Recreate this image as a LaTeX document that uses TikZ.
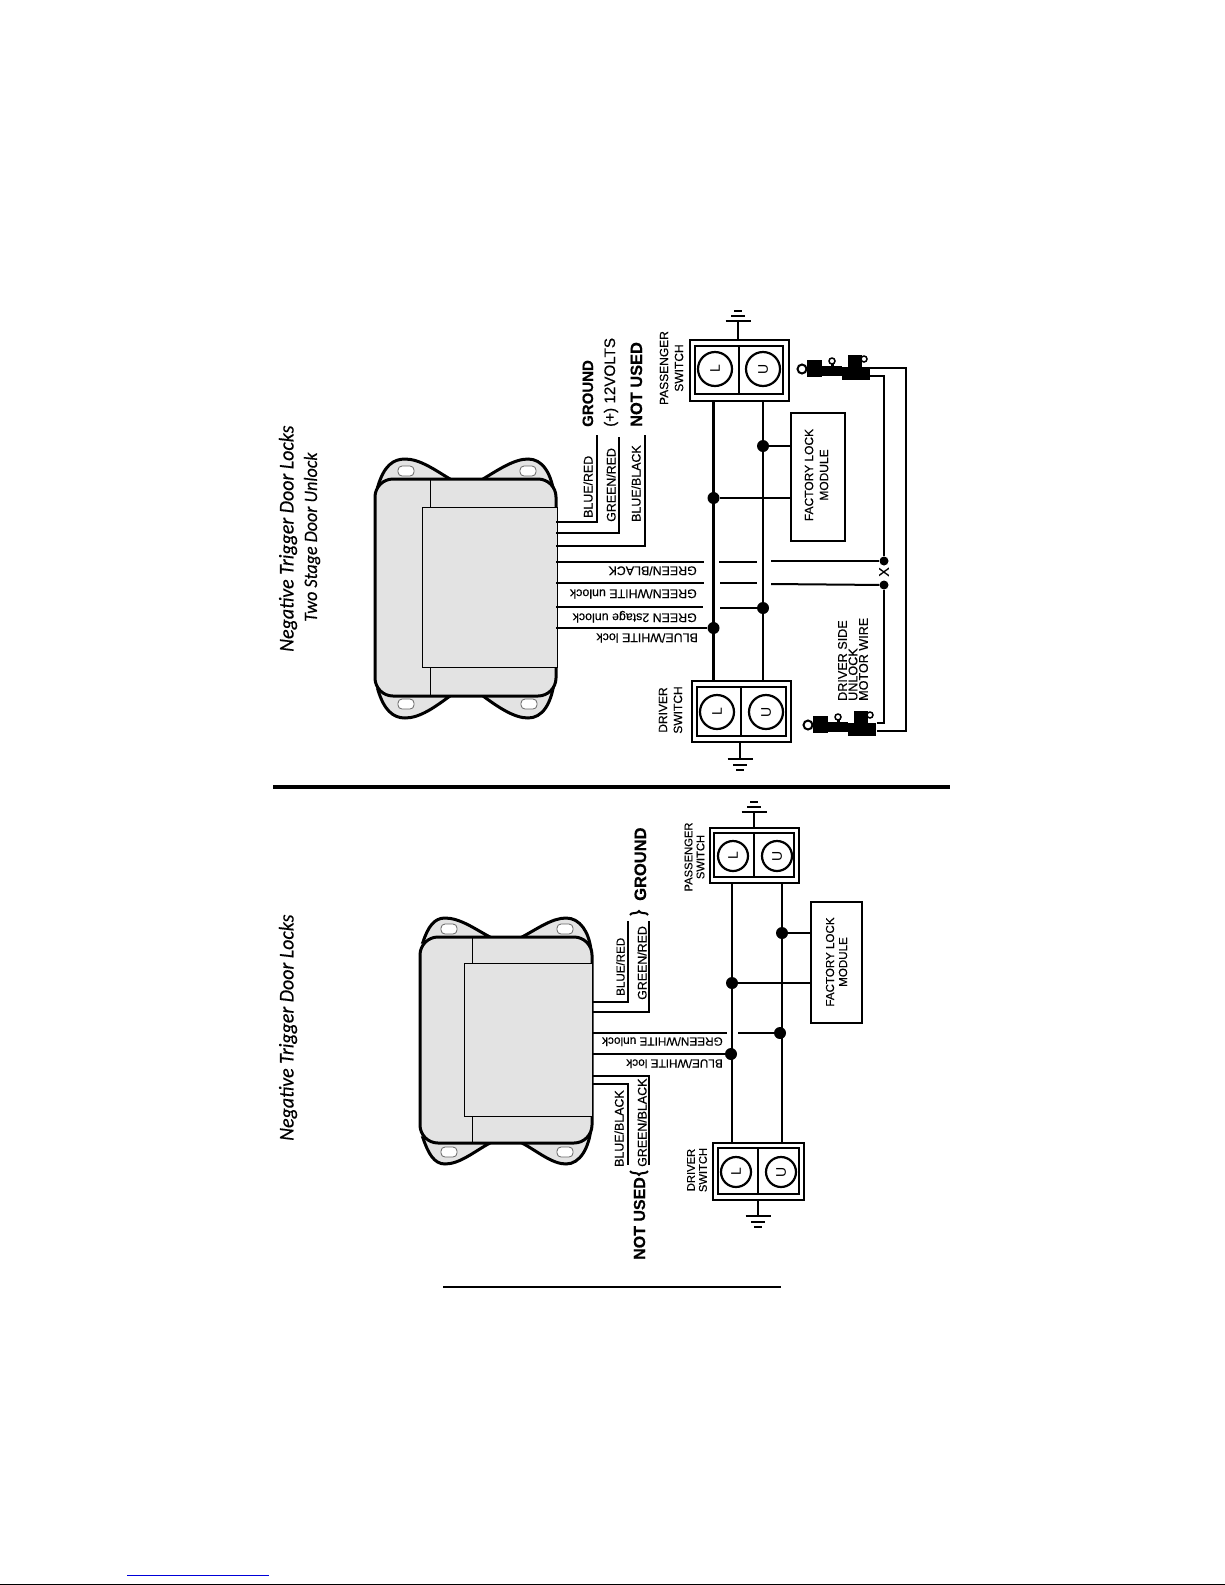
\documentclass[tikz,border=0pt]{standalone}
\usepackage{fontspec}
\setsansfont[FakeBold=0.4]{Liberation Sans}
\newfontfamily\plainfont{Liberation Sans}
\newfontfamily\titlefont[FakeStretch=0.95,FakeBold=0.3]{Carlito}
\usetikzlibrary{decorations.pathreplacing}
\definecolor{unitgray}{gray}{0.89}
\tikzset{
  unitbody/.style={draw,line width=3pt,fill=unitgray,rounded corners=18pt,outer sep=0pt,inner sep=0pt},
  unitpanel/.style={draw,line width=1pt,fill=unitgray,outer sep=0pt,inner sep=0pt},
  earline/.style={draw,line width=3pt,fill=unitgray},
  earhole/.style={draw=black!60,line width=0.8pt,fill=white,rounded corners=4pt,minimum width=16pt,minimum height=10pt,inner sep=0pt},
  wire/.style={line width=2.9pt},
  thinwire/.style={line width=2pt},
  swouter/.style={draw,line width=2pt,fill=white,outer sep=0pt,inner sep=0pt},
  swinner/.style={draw,line width=2.6pt,outer sep=0pt,inner sep=0pt},
  swcirc/.style={draw,circle,line width=2.2pt,inner sep=0pt,rotate=90,font=\plainfont\fontsize{14}{14}\selectfont},
  dot/.style={circle,fill=black,inner sep=0pt,minimum size=12pt},
  smalldot/.style={circle,fill=black,inner sep=0pt,minimum size=9pt},
  modbox/.style={draw,line width=2pt,fill=white,outer sep=0pt,inner sep=0pt},
  wlabel/.style={inner sep=0pt,rotate=90,anchor=west,text height=9pt,text depth=0pt,font=\sffamily\fontsize{12.4}{12.4}\selectfont},
  revlabel/.style={inner sep=0pt,rotate=180,anchor=west,text height=9pt,text depth=0pt,font=\sffamily\fontsize{12.4}{12.4}\selectfont},
  biglabel/.style={inner sep=0pt,rotate=90,anchor=west,text height=10pt,text depth=0pt,font=\sffamily\bfseries\fontsize{15}{15}\selectfont},
  swlabel/.style={inner sep=0pt,rotate=90,align=center,font=\sffamily\fontsize{12}{15}\selectfont},
  titlelabel/.style={inner sep=0pt,rotate=90,anchor=west,font=\titlefont\itshape\fontsize{21}{21}\selectfont},
  actuator/.pic={
    \draw[line width=2pt] (0,0) circle (4.5);
    \fill (5,-9) rectangle (20,8);
    \fill (20,-3) rectangle (40,7);
    \fill (40,-2) rectangle (68,11);
    \fill (46,-14) rectangle (60,-2);
    \draw[line width=1.5pt] (30,-8) circle (3);
    \fill (28.5,-6) rectangle (31.5,-3);
    \draw[line width=1.5pt] (62,-10) circle (3);
  },
  ground/.pic={
    \draw[line width=2pt] (-12.5,0) -- (12.5,0);
    \draw[line width=2pt] (-7,5.5) -- (7,5.5);
    \draw[line width=2pt] (-4,10.5) -- (4,10.5);
  }
}
\begin{document}
\begin{tikzpicture}[x=1pt,y=-1pt]
\useasboundingbox (0,0) rectangle (1225,1585);
% upper picture: the unit
\path[earline] (378,486) .. controls (384,466) and (393,459) .. (405,459) .. controls (420,459) and (435,470) .. (450,479) -- cycle;
\path[earline] (483,479) .. controls (498,470) and (514,459) .. (528,459) .. controls (542,459) and (552,472) .. (555,500) -- cycle;
\path[earline] (378,690) .. controls (384,710) and (393,718) .. (405,718) .. controls (420,718) and (435,707) .. (450,696) -- cycle;
\path[earline] (483,696) .. controls (498,707) and (514,718) .. (528,718) .. controls (542,718) and (552,705) .. (555,676) -- cycle;
\node[earhole] (holeA) at (406,471) {};
\node[earhole] (holeB) at (528,471) {};
\node[earhole] (holeC) at (406,704) {};
\node[earhole] (holeD) at (529,704) {};
\node[unitbody,minimum width=181pt,minimum height=217pt] (unitA) at (465.5,587.5) {};
\node[unitpanel,minimum width=135pt,minimum height=160pt] (panelA) at (489.5,587) {};
\draw[line width=1pt] (430,479) -- (430,507);
\draw[line width=1pt] (430,667) -- (430,696);
% upper picture: wires leaving the unit
\coordinate (endbr) at (597,435);
\coordinate (endgr) at (619,437);
\coordinate (endbb) at (645,435);
\draw[wire] (unitA.east |- 0,522) -| (endbr);
\draw[wire] (unitA.east |- 0,533) -| (endgr);
\draw[wire] (unitA.east |- 0,546) -| (endbb);
\node[wlabel] (lblbr) at (588,518) {BLUE/RED};
\node[wlabel] (lblgr) at (611,522) {GREEN/RED};
\node[wlabel] (lblbb) at (636,522) {BLUE/BLACK};
\node[biglabel] (lblgnd) at (588,427) {GROUND};
\node[biglabel,font=\sffamily\fontsize{15.2}{15.2}\selectfont] (lbl12v) at (610,427) {(+) 12VOLTS};
\node[biglabel,font=\sffamily\bfseries\fontsize{16.4}{16.4}\selectfont] (lblnu) at (637,427) {NOT USED};
% upper picture: switches
\node[swouter,minimum width=99pt,minimum height=61pt] (swpassA) at (739.5,370.5) {};
\node[swinner,minimum width=88pt,minimum height=48pt] (inpassA) at (739,370) {};
\draw[line width=2.2pt] (739,346) -- (739,394);
\node[swcirc,minimum size=34pt] (plA) at (715,369) {L};
\node[swcirc,minimum size=34pt] (puA) at (763,369) {U};
\node[swouter,minimum width=99pt,minimum height=61pt] (swdrvA) at (741.5,711.5) {};
\node[swinner,minimum width=89pt,minimum height=49pt] (indrvA) at (741.5,711.5) {};
\draw[line width=2.2pt] (741,687) -- (741,736);
\node[swcirc,minimum size=34pt] (dlA) at (717,712) {L};
\node[swcirc,minimum size=34pt] (duA) at (766,712) {U};
\node[swlabel] (lblpassA) at (671.5,368) {PASSENGER\\SWITCH};
\node[swlabel] (lbldrvA) at (670.5,710) {DRIVER\\SWITCH};
\coordinate (gndpA) at (738,321);
\coordinate (gnddA) at (740,759);
\draw[line width=2pt] (swpassA.north -| gndpA) -- (gndpA);
\draw[line width=2pt] (swdrvA.south -| gnddA) -- (gnddA);
\pic[yscale=-1] at (gndpA) {ground};
\pic at (gnddA) {ground};
% upper picture: factory module and junctions
\node[modbox,minimum width=54pt,minimum height=128pt] (facA) at (818,477) {};
\node[swlabel] (lblfacA) at (816.5,475) {FACTORY LOCK\\MODULE};
\node[dot] (jlA) at (713.5,498) {};
\node[dot] (juA) at (763,446) {};
\node[dot] (jgsA) at (763,608) {};
\node[dot] (jbwA) at (713.5,628) {};
\draw[wire] (jlA |- swpassA.south) -- (jlA |- swdrvA.north);
\draw[wire] (juA |- swpassA.south) -- (juA |- swdrvA.north);
\draw[line width=2pt] (jlA) -- (jlA -| facA.west);
\draw[line width=2pt] (juA) -- (juA -| facA.west);
% upper picture: signal wires with their breaks
\coordinate (gbA) at (704,562);
\coordinate (gwA) at (704,583);
\coordinate (gsA) at (703,607);
\coordinate (gs2A) at (720,608);
\coordinate (b1A) at (719,562);
\coordinate (b2A) at (757,562);
\coordinate (b3A) at (720,583);
\coordinate (b4A) at (757,583);
\node[smalldot] (jtopA) at (884,561) {};
\node[smalldot] (jbotA) at (884,585) {};
\coordinate (b5A) at (771,561);
\coordinate (b6A) at (771,584);
\draw[thinwire] (unitA.east |- gbA) -- (gbA);
\draw[thinwire] (unitA.east |- gwA) -- (gwA);
\draw[thinwire] (unitA.east |- gsA) -- (gsA);
\draw[thinwire] (unitA.east |- jbwA) -- (jbwA);
\draw[thinwire] (b1A) -- (b2A);
\draw[thinwire] (b3A) -- (b4A);
\draw[wire] (gs2A) -- (jgsA);
\draw[thinwire] (b5A) -- (jtopA);
\draw[thinwire] (b6A) -- (jbotA);
\node[revlabel] (lblgbA) at (697,571) {GREEN/BLACK};
\node[revlabel] (lblgwA) at (697,594) {GREEN/WHITE unlock};
\node[revlabel] (lblgsA) at (697,618) {GREEN 2stage unlock};
\node[revlabel] (lblbwA) at (698,638) {BLUE/WHITE lock};
\node[inner sep=0pt,rotate=90,font=\sffamily\fontsize{14}{14}\selectfont] (lblx) at (884,572) {X};
% upper picture: door lock motors
\pic at (802,369) {actuator};
\pic at (808,725) {actuator};
\coordinate (mot1) at (870,376);
\coordinate (mot2) at (870,368);
\coordinate (mot3) at (877,723);
\coordinate (mot4) at (877,731);
\coordinate (motr) at (906,368);
\draw[wire] (jtopA) |- (mot1);
\draw[wire] (jbotA) |- (mot3);
\draw[wire] (mot2) -- (motr) |- (mot4);
\node[inner sep=0pt,rotate=90,anchor=west,align=left,font=\sffamily\fontsize{12.6}{10.5}\selectfont] (lblmot) at (853,701) {DRIVER SIDE\\UNLOCK\\MOTOR WIRE};
\node[titlelabel] (titleA) at (288,652) {Negative Trigger Door Locks};
\node[titlelabel,font=\titlefont\itshape\fontsize{19}{19}\selectfont] (titleAb) at (312,622) {Two Stage Door Unlock};
% divider
\coordinate (divl) at (273,787);
\coordinate (divr) at (950,787);
\draw[line width=4pt] (divl) -- (divr);
% lower picture: the unit
\path[earline] (423,942) .. controls (428,927) and (434,918) .. (445,918) .. controls (460,918) and (475,929) .. (490,937) -- cycle;
\path[earline] (522,937) .. controls (537,929) and (552,918) .. (566,918) .. controls (580,918) and (589,932) .. (591,950) -- cycle;
\path[earline] (423,1138) .. controls (428,1153) and (434,1164) .. (445,1164) .. controls (460,1164) and (475,1151) .. (490,1143) -- cycle;
\path[earline] (522,1143) .. controls (537,1151) and (552,1164) .. (566,1164) .. controls (580,1164) and (589,1148) .. (591,1128) -- cycle;
\node[earhole] (holeE) at (449,929) {};
\node[earhole] (holeF) at (565,929) {};
\node[earhole] (holeG) at (449,1152) {};
\node[earhole] (holeH) at (565,1152) {};
\node[unitbody,minimum width=172pt,minimum height=206pt] (unitB) at (506,1040) {};
\node[unitpanel,minimum width=128pt,minimum height=153pt] (panelB) at (528,1039.5) {};
\draw[line width=1pt] (472,937) -- (472,963);
\draw[line width=1pt] (472,1116) -- (472,1143);
% lower picture: wires leaving the unit
\coordinate (endbrB) at (628,921);
\coordinate (endgrB) at (649,921);
\coordinate (endbbB) at (628,1165);
\coordinate (endgbB) at (649,1165);
\draw[wire] (unitB.east |- 0,1002) -| (endbrB);
\draw[wire] (unitB.east |- 0,1012) -| (endgrB);
\draw[wire] (unitB.east |- 0,1084) -| (endbbB);
\draw[wire] (unitB.east |- 0,1076) -| (endgbB);
\node[wlabel,font=\sffamily\fontsize{11.6}{11.6}\selectfont] (lblbrB) at (620,996) {BLUE/RED};
\node[wlabel,font=\sffamily\fontsize{12.4}{12.4}\selectfont] (lblgrB) at (642,1000) {GREEN/RED};
\node[wlabel] (lblbbB) at (619,1167) {BLUE/BLACK};
\node[wlabel] (lblgbB) at (642,1167) {GREEN/BLACK};
\node[biglabel,font=\sffamily\bfseries\fontsize{16.5}{16.5}\selectfont] (lblgndB) at (641,901) {GROUND};
\node[biglabel,font=\sffamily\bfseries\fontsize{16}{16}\selectfont] (lblnuB) at (640,1260) {NOT USED};
\coordinate (br1) at (630,915);
\coordinate (br2) at (648,915);
\coordinate (br3) at (648,1171);
\coordinate (br4) at (630,1171);
\draw[line width=2pt,decorate,decoration={brace,amplitude=4pt}] (br1) -- (br2);
\draw[line width=2pt,decorate,decoration={brace,amplitude=4pt}] (br3) -- (br4);
% lower picture: switches
\node[swouter,minimum width=89pt,minimum height=55pt] (swpassB) at (754.5,855.5) {};
\node[swinner,minimum width=80pt,minimum height=44pt] (inpassB) at (754,855) {};
\draw[line width=2.2pt] (754,833) -- (754,877);
\node[swcirc,minimum size=30pt] (plB) at (733,856) {L};
\node[swcirc,minimum size=30pt] (puB) at (777,856) {U};
\node[swouter,minimum width=91pt,minimum height=57pt] (swdrvB) at (758.5,1171.5) {};
\node[swinner,minimum width=81pt,minimum height=46pt] (indrvB) at (758.5,1171) {};
\draw[line width=2.2pt] (758,1148) -- (758,1194);
\node[swcirc,minimum size=30pt] (dlB) at (736,1172) {L};
\node[swcirc,minimum size=30pt] (duB) at (781,1172) {U};
\node[swlabel,font=\sffamily\fontsize{11.2}{12}\selectfont] (lblpassB) at (694.5,857) {PASSENGER\\SWITCH};
\node[swlabel,font=\sffamily\fontsize{11.2}{12}\selectfont] (lbldrvB) at (697,1170) {DRIVER\\SWITCH};
\coordinate (gndpB) at (754,812);
\coordinate (gnddB) at (758,1216);
\draw[line width=2pt] (swpassB.north -| gndpB) -- (gndpB);
\draw[line width=2pt] (swdrvB.south -| gnddB) -- (gnddB);
\pic[yscale=-1] at (gndpB) {ground};
\pic at (gnddB) {ground};
% lower picture: factory module and junctions
\node[modbox,minimum width=51pt,minimum height=121pt] (facB) at (836.5,962.5) {};
\node[swlabel,font=\sffamily\fontsize{11.6}{13}\selectfont] (lblfacB) at (836.5,962) {FACTORY LOCK\\MODULE};
\node[dot] (jlB) at (732,983) {};
\node[dot] (juB) at (782,933) {};
\node[dot] (jgwB) at (780,1033) {};
\node[dot] (jbwB) at (731,1054) {};
\draw[wire] (jlB |- swpassB.south) -- (jlB |- swdrvB.north);
\draw[wire] (juB |- swpassB.south) -- (juB |- swdrvB.north);
\draw[line width=2pt] (jlB) -- (jlB -| facB.west);
\draw[line width=2pt] (juB) -- (juB -| facB.west);
\coordinate (gwB) at (727,1033);
\coordinate (gw2B) at (738,1033);
\draw[thinwire] (unitB.east |- gwB) -- (gwB);
\draw[thinwire] (gw2B) -- (jgwB);
\draw[thinwire] (unitB.east |- jbwB) -- (jbwB);
\node[revlabel,font=\sffamily\fontsize{11.8}{11.8}\selectfont] (lblgwB) at (723,1042) {GREEN/WHITE unlock};
\node[revlabel,font=\sffamily\fontsize{11.8}{11.8}\selectfont] (lblbwB) at (723,1064) {BLUE/WHITE lock};
\node[titlelabel] (titleB) at (288,1141) {Negative Trigger Door Locks};
% page foot
\coordinate (rulel) at (443,1287);
\coordinate (ruler) at (781,1287);
\draw[line width=2pt] (rulel) -- (ruler);
\coordinate (linkl) at (127,1575);
\coordinate (linkr) at (269,1575);
\draw[line width=1pt,color=blue!85!black] (linkl) -- (linkr);
\coordinate (footl) at (0,1584.5);
\coordinate (footr) at (1225,1584.5);
\draw[line width=1.2pt] (footl) -- (footr);
\end{tikzpicture}
\end{document}
